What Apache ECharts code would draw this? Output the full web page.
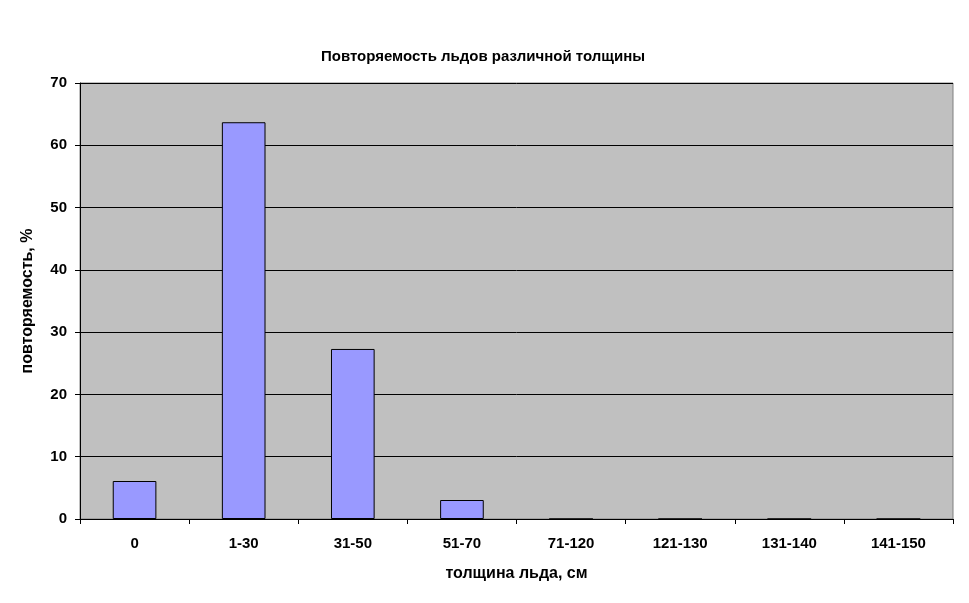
<!DOCTYPE html>
<html><head><meta charset="utf-8">
<script src="https://cdn.jsdelivr.net/npm/echarts@6/dist/echarts.min.js"></script>
<style>html,body{margin:0;padding:0;background:#fff}#c{width:969px;height:603px}</style>
</head><body><div id="c"></div>
<script>
const categories = ['0','1-30','31-50','51-70','71-120','121-130','131-140','141-150'];
const values = [6.1, 63.7, 27.3, 3.05, 0, 0, 0, 0];
const yTicks = [0,10,20,30,40,50,60,70];

const chart = echarts.init(document.getElementById('c'), null, {renderer:'canvas'});
const font = 'Liberation Sans, Arial, sans-serif';
const ts = {fontFamily: font, fontSize: 15, fontWeight: 'bold', color: '#000'};
const ns = {fontFamily: font, fontSize: 16, fontWeight: 'bold', color: '#000'};
chart.setOption({
  animation: false,
  title: {
    text: 'Повторяемость льдов различной толщины',
    left: 478, top: 44, textAlign: 'center',
    textStyle: ts
  },
  grid: {
    left: 80, top: 83, right: 16, bottom: 84,
    show: true, backgroundColor: '#C0C0C0', borderColor: '#808080', borderWidth: 1
  },
  xAxis: {
    type: 'category', data: categories,
    name: 'толщина льда, см', nameLocation: 'middle', nameGap: 47,
    nameTextStyle: ns,
    axisLine: {lineStyle: {color: '#000', width: 1}},
    axisTick: {show: true, alignWithLabel: false, length: 5, lineStyle: {color: '#000'}},
    axisLabel: Object.assign({margin: 17}, ts)
  },
  yAxis: {
    type: 'value', min: 0, max: 70, interval: 10,
    name: 'повторяемость, %', nameLocation: 'middle', nameGap: 44,
    nameTextStyle: ns,
    axisLine: {show: true, lineStyle: {color: '#000', width: 1}},
    axisTick: {show: true, length: 5, lineStyle: {color: '#000'}},
    axisLabel: Object.assign({margin: 13,
      formatter: v => yTicks.includes(v) ? String(v) : ''}, ts),
    splitLine: {show: true, lineStyle: {color: '#000', width: 1}}
  },
  series: [{
    type: 'bar', data: values, barWidth: '40%',
    itemStyle: {color: '#9999FF', borderColor: '#000', borderWidth: 1}
  }]
});
</script></body></html>
